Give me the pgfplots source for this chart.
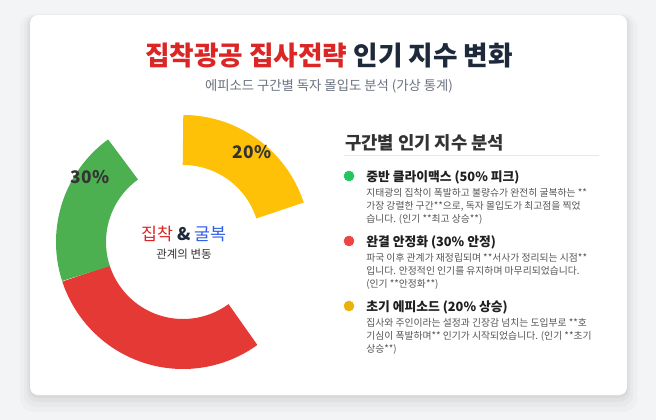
\documentclass[border=0pt]{standalone}
\usepackage{fontspec}
\setmainfont{Noto Sans CJK KR}
\usepackage{pgfplots}
\usepackage{pgfplotstable}
\pgfplotsset{compat=1.18}
\definecolor{bg}{HTML}{F3F4F6}
\definecolor{titlered}{HTML}{DC2626}
\definecolor{titledark}{HTML}{1E293B}
\definecolor{subgray}{HTML}{6B7280}
\definecolor{headdark}{HTML}{333333}
\definecolor{sepgray}{HTML}{E5E7EB}
\definecolor{dotgreen}{HTML}{22C55E}
\definecolor{dotred}{HTML}{EF4444}
\definecolor{dotyellow}{HTML}{EAB308}
\definecolor{ringyellow}{HTML}{FFC107}
\definecolor{ringred}{HTML}{E53935}
\definecolor{ringgreen}{HTML}{4CAF50}
\definecolor{desc}{HTML}{555555}
\definecolor{blueword}{HTML}{2F5FE8}
% donut segments: start angle (deg, counter-clockwise from 3 o'clock) and share in percent
\pgfplotstableread{
name   start  pct
early  90     20
final  -54    30
middle -162   20
}\segments
\begin{document}
\begin{tikzpicture}
\begin{axis}[width=492pt,height=315pt,scale only axis,
  xmin=0,xmax=656,ymin=0,ymax=420,y dir=reverse,
  hide axis,clip=false]
% background and card
\fill[bg] (axis cs:0,0) rectangle (axis cs:656,420);
\fill[black,opacity=0.02,rounded corners=10pt] (axis cs:20,14) rectangle (axis cs:637,412);
\fill[black,opacity=0.025,rounded corners=9pt] (axis cs:24,15) rectangle (axis cs:633,407);
\fill[black,opacity=0.03,rounded corners=8pt] (axis cs:27,15) rectangle (axis cs:630,402);
\fill[black,opacity=0.035,rounded corners=7pt] (axis cs:29,15) rectangle (axis cs:628,398);
\fill[white,rounded corners=6pt] (axis cs:30,15) rectangle (axis cs:627,395);
% donut ring (centre 183,242; radii 77..127)
\pgfplotstablegetelem{0}{start}\of\segments \let\sa\pgfplotsretval
\pgfplotstablegetelem{0}{pct}\of\segments \let\pa\pgfplotsretval
\pgfplotstablegetelem{1}{start}\of\segments \let\sb\pgfplotsretval
\pgfplotstablegetelem{1}{pct}\of\segments \let\pb\pgfplotsretval
\pgfplotstablegetelem{2}{start}\of\segments \let\sc\pgfplotsretval
\pgfplotstablegetelem{2}{pct}\of\segments \let\pc\pgfplotsretval
\pgfmathsetmacro\ea{\sa-3.6*\pa}
\pgfmathsetmacro\eb{\sb-3.6*\pb}
\pgfmathsetmacro\ec{\sc-3.6*\pc}
\addplot[ringyellow,line width=37.5pt,domain=\ea:\sa,samples=60,variable=\t]
  ({183+102*cos(t)},{242-102*sin(t)});
\addplot[ringred,line width=37.5pt,domain=\eb:\sb,samples=80,variable=\t]
  ({183+102*cos(t)},{242-102*sin(t)});
\addplot[ringgreen,line width=37.5pt,domain=\ec:\sc,samples=60,variable=\t]
  ({183+102*cos(t)},{242-102*sin(t)});
\node[text=headdark,font=\fontsize{13}{15}\selectfont\bfseries] at (axis cs:252,152) {20\%};
\node[text=headdark,font=\fontsize{13}{15}\selectfont\bfseries] at (axis cs:90,177) {30\%};
\node[font=\fontsize{13}{15}\selectfont] at (axis cs:184,234)
  {\textcolor{titlered}{집착} \textcolor{titledark}{\bfseries\&} \textcolor{blueword}{굴복}};
\node[text=headdark,font=\fontsize{8.6}{10}\selectfont] at (axis cs:184,254) {관계의 변동};
% titles
\node[font=\fontsize{20}{23}\selectfont\bfseries] at (axis cs:329,56)
  {\textcolor{titlered}{집착광공 집사전략} \textcolor{titledark}{인기 지수 변화}};
\node[text=subgray,font=\fontsize{10}{12}\selectfont] at (axis cs:329,86)
  {에피소드 구간별 독자 몰입도 분석 (가상 통계)};
% right panel
\node[anchor=west,inner sep=0pt,text=headdark,font=\fontsize{13.3}{15}\selectfont\bfseries] at (axis cs:345,143) {구간별 인기 지수 분석};
\draw[sepgray,line width=0.75pt] (axis cs:344,156) -- (axis cs:599,156);
\addplot[only marks,mark=*,mark size=3.75pt,color=dotgreen] coordinates {(349,176)};
\addplot[only marks,mark=*,mark size=3.75pt,color=dotred] coordinates {(349,241)};
\addplot[only marks,mark=*,mark size=3.75pt,color=dotyellow] coordinates {(349,306)};
\tikzset{ititle/.style={anchor=west,inner sep=0pt,text=black!88,font=\fontsize{9.6}{11}\selectfont\bfseries},
  idesc/.style={anchor=west,inner sep=0pt,text=desc,font=\fontsize{7.35}{9}\selectfont}}
\node[ititle] at (axis cs:366,177.5) {중반 클라이맥스 (50\% 피크)};
\node[idesc] at (axis cs:366,192.5) {지태광의 집착이 폭발하고 불량슈가 완전히 굴복하는 **};
\node[idesc] at (axis cs:366,206) {가장 강렬한 구간**으로, 독자 몰입도가 최고점을 찍었};
\node[idesc] at (axis cs:366,219) {습니다. (인기 **최고 상승**)};
\node[ititle] at (axis cs:366,242.5) {완결 안정화 (30\% 안정)};
\node[idesc] at (axis cs:366,257.5) {파국 이후 관계가 재정립되며 **서사가 정리되는 시점**};
\node[idesc] at (axis cs:366,271) {입니다. 안정적인 인기를 유지하며 마무리되었습니다.};
\node[idesc] at (axis cs:366,284) {(인기 **안정화**)};
\node[ititle] at (axis cs:366,307.5) {초기 에피소드 (20\% 상승)};
\node[idesc] at (axis cs:366,322.5) {집사와 주인이라는 설정과 긴장감 넘치는 도입부로 **호};
\node[idesc] at (axis cs:366,336) {기심이 폭발하며** 인기가 시작되었습니다. (인기 **초기};
\node[idesc] at (axis cs:366,349) {상승**)};
\end{axis}
\end{tikzpicture}
\end{document}
